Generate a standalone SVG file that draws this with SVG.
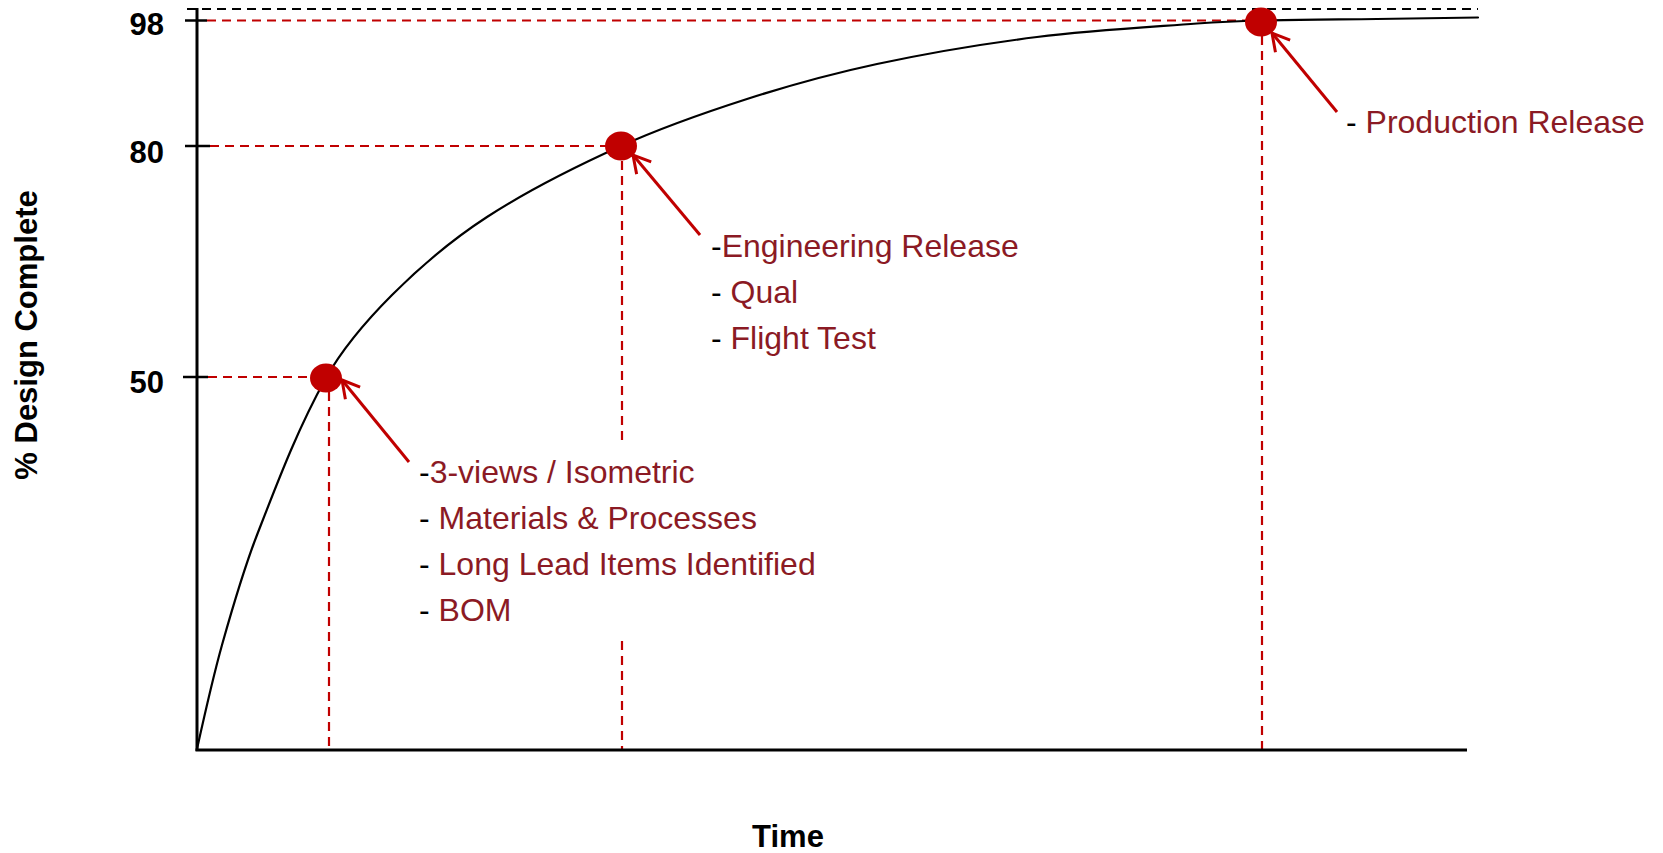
<svg xmlns="http://www.w3.org/2000/svg" width="1663" height="853" viewBox="0 0 1663 853">
<defs>
<style>
.axis{stroke:#000;stroke-width:3;fill:none}
.tick{stroke:#000;stroke-width:2.5;fill:none}
.curve{stroke:#000;stroke-width:2.2;fill:none;stroke-linejoin:round;stroke-linecap:round}
.rdash{stroke:#C00000;stroke-width:2.2;stroke-dasharray:9 6;fill:none}
.kdash{stroke:#000;stroke-width:2.2;stroke-dasharray:9 6;fill:none}
.dot{fill:#C00000}
.arrow{stroke:#C00000;stroke-width:3;fill:none}
.num{font-family:"Liberation Sans",Arial,sans-serif;font-weight:bold;font-size:31px;fill:#000}
.lbl{font-family:"Liberation Sans",Arial,sans-serif;font-size:32px;fill:#000}
.red{fill:#8B1A24}
</style>
<marker id="head" markerUnits="userSpaceOnUse" viewBox="-20 -12 24 24" refX="0" refY="0" markerWidth="24" markerHeight="24" orient="auto">
<path d="M-17,-9.5 L0,0 L-17,9.5" stroke="#C00000" stroke-width="3" fill="none"/>
</marker>
</defs>
<rect width="1663" height="853" fill="#fff"/>
<g id="guides">
<line class="kdash" x1="187" y1="9" x2="1478" y2="9"/>
<line class="rdash" x1="207" y1="20.5" x2="1246" y2="20.5"/>
<line class="rdash" x1="210" y1="146" x2="606" y2="146"/>
<line class="rdash" x1="208" y1="377" x2="311" y2="377"/>
<line class="rdash" x1="329" y1="392" x2="329" y2="750"/>
<line class="rdash" x1="622" y1="161" x2="622" y2="443"/>
<line class="rdash" x1="622" y1="641" x2="622" y2="750"/>
<line class="rdash" x1="1262" y1="36" x2="1262" y2="750"/>
</g>
<g id="axes">
<line class="axis" x1="197" y1="8" x2="197" y2="751"/>
<line class="axis" x1="195.5" y1="750" x2="1467" y2="750"/>
<line class="tick" x1="185" y1="20.5" x2="207" y2="20.5"/>
<line class="tick" x1="185" y1="146" x2="210" y2="146"/>
<line class="tick" x1="183" y1="377" x2="208" y2="377"/>
<text class="num" x="164" y="35" text-anchor="end">98</text>
<text class="num" x="164" y="163" text-anchor="end">80</text>
<text class="num" x="164" y="393" text-anchor="end">50</text>
<text class="num" transform="translate(37,335) rotate(-90)" text-anchor="middle">% Design Complete</text>
<text class="num" x="788" y="847" text-anchor="middle">Time</text>
</g>
<g id="curve">
<path class="curve" d="M197,749 C204.7,714.2 212.4,679.3 222,645 C232.4,608 243.1,570.8 257,535 C277.7,481.8 298.2,427.5 326,378 C343.2,347.4 367.2,319.8 392,295 C420.8,266.2 452.8,239.2 487,217 C529.1,189.6 575.1,166.8 621,146 C661.8,127.5 704.4,112.7 747,99 C789.7,85.3 833.2,73.4 877,64 C929.9,52.7 983.4,43.8 1037,37 C1090.1,30.3 1143.6,27.4 1197,23.5 C1218.6,21.9 1240.3,21 1262,20.5 C1300.3,19.5 1338.7,19.5 1377,19 C1410.7,18.5 1444.3,18 1478,17.5"/>
</g>
<g id="connectors">
<line class="arrow" x1="409" y1="462" x2="342" y2="380" marker-end="url(#head)"/>
<line class="arrow" x1="700" y1="235" x2="633" y2="155" marker-end="url(#head)"/>
<line class="arrow" x1="1337" y1="112" x2="1272" y2="33" marker-end="url(#head)"/>
</g>
<g id="milestone-50">
<ellipse class="dot" cx="326" cy="378" rx="16" ry="14.5"/>
<text class="lbl" x="419" y="483">-<tspan class="red">3-views / Isometric</tspan></text>
<text class="lbl" x="419" y="529">- <tspan class="red">Materials &amp; Processes</tspan></text>
<text class="lbl" x="419" y="575">- <tspan class="red">Long Lead Items Identified</tspan></text>
<text class="lbl" x="419" y="621">- <tspan class="red">BOM</tspan></text>
</g>
<g id="milestone-80">
<ellipse class="dot" cx="621" cy="146" rx="16" ry="14.5"/>
<text class="lbl" x="711" y="257">-<tspan class="red">Engineering Release</tspan></text>
<text class="lbl" x="711" y="303">- <tspan class="red">Qual</tspan></text>
<text class="lbl" x="711" y="349">- <tspan class="red">Flight Test</tspan></text>
</g>
<g id="milestone-98">
<ellipse class="dot" cx="1261" cy="22" rx="16" ry="14.5"/>
<text class="lbl" x="1346" y="133">- <tspan class="red">Production Release</tspan></text>
</g>
</svg>
